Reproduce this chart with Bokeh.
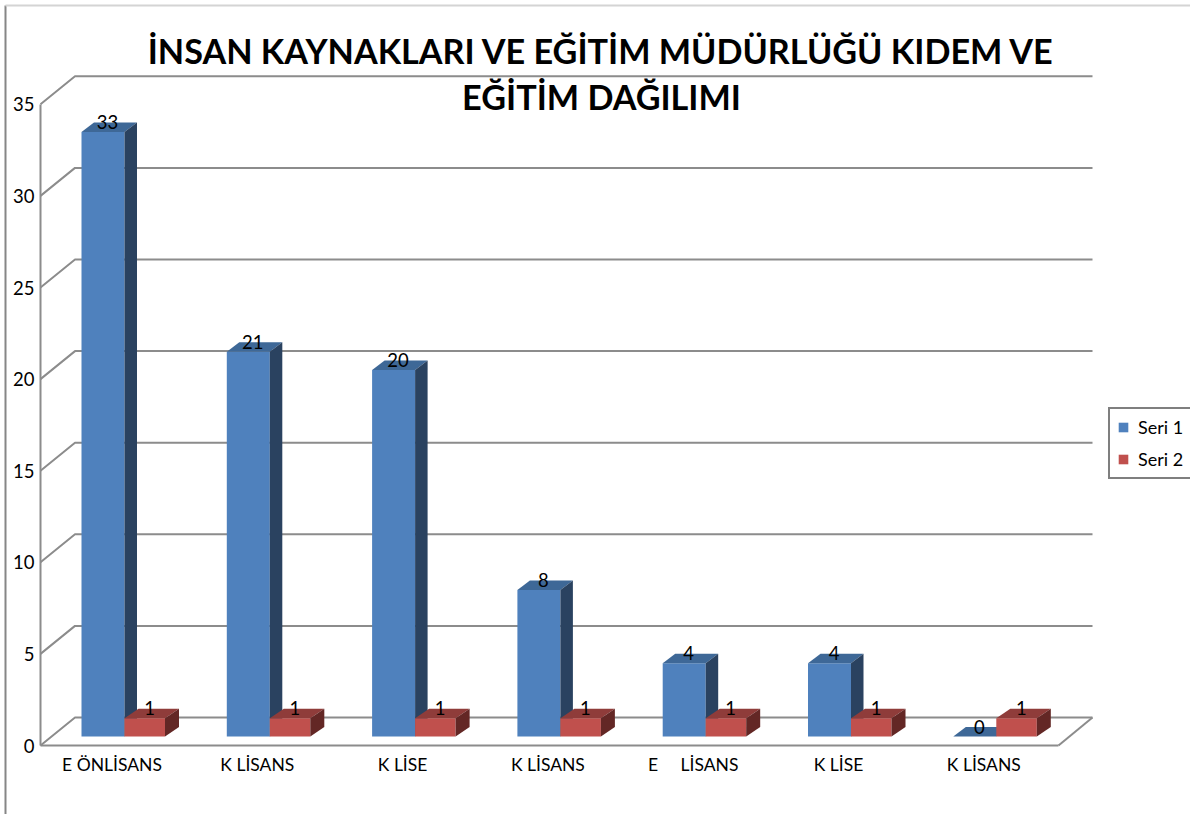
from bokeh.plotting import figure
from bokeh.embed import file_html
from bokeh.resources import INLINE
from bokeh.models import Range1d, FixedTicker, Legend, LegendItem, Label
from bokeh.core.properties import value

# ---- data ----
categories = ["E ÖNLİSANS", "K LİSANS", "K LİSE", "K LİSANS", "E\u00a0\u00a0\u00a0\u00a0\u00a0LİSANS", "K LİSE", "K LİSANS"]
seri_1 = [33, 21, 20, 8, 4, 4, 0]
seri_2 = [1, 1, 1, 1, 1, 1, 1]
y_ticks = [0, 5, 10, 15, 20, 25, 30, 35]
series_names = ["Seri 1", "Seri 2"]
title_lines = ["İNSAN KAYNAKLARI VE EĞİTİM MÜDÜRLÜĞÜ KIDEM VE", "EĞİTİM DAĞILIMI"]

# ---- layout ----
W, H = 1190, 814
PX_X, PX_Y = 145.3, 18.32      # pixels per category / per unit
X0, Y0 = 111.5, 745            # pixel of category 0 / of value 0
FONT = "Lato"
GRID = "#8c8c8c"
BLUE = ("#4f81bd", "#3e6897", "#2a4260")
RED = ("#c0504d", "#8f3c3a", "#632725")


def dx(px):
    return px / PX_X


def dy(px):
    return px / PX_Y


def fx(px):
    return (px - X0) / PX_X


def fy(px):
    return (Y0 - px) / PX_Y


p = figure(
    width=W, height=H, output_backend="svg", toolbar_location=None,
    x_range=Range1d(fx(0), fx(W)), y_range=Range1d(fy(H), fy(0)),
    min_border=0, min_border_left=0, min_border_right=0, min_border_top=0, min_border_bottom=0,
    outline_line_color=None, background_fill_color="white", border_fill_color="white",
)
p.grid.visible = False

# outer chart frame
p.line([fx(5), fx(5)], [fy(H), fy(5)], line_color="#868686", line_width=2)
p.line([fx(5), fx(W)], [fy(5), fy(5)], line_color="#d4d4d4", line_width=2)

# walls and floor
wall_left, wall_right = fx(74.5), fx(1092)
axis_left = fx(40)
depth_y = dy(28)
for t in y_ticks:
    yb = t + depth_y
    p.line([axis_left, wall_left, wall_right], [t, yb, yb], line_color=GRID, line_width=2)
floor_right = fx(1058)
p.line([floor_right, wall_right], [0, depth_y], line_color=GRID, line_width=2)

# 3D bars
bar_depth_y = dy(9)
side_y = dy(9.5)


def draw_bars(values, left, right, colors, side_x):
    front = p.quad(left=[i + left for i in range(len(values))],
                   right=[i + right for i in range(len(values))],
                   bottom=[bar_depth_y] * len(values),
                   top=[v + bar_depth_y for v in values],
                   fill_color=colors[0], line_color=None)
    tops_x, tops_y, sides_x, sides_y = [], [], [], []
    for i, v in enumerate(values):
        a, b = i + left, i + right
        t = v + bar_depth_y
        tops_x.append([a, b, b + side_x, a + side_x])
        tops_y.append([t, t, t + side_y, t + side_y])
        if v > 0:
            sides_x.append([b, b + side_x, b + side_x, b])
            sides_y.append([t, t + side_y, bar_depth_y + side_y, bar_depth_y])
    p.patches(tops_x, tops_y, fill_color=colors[1], line_color=None)
    p.patches(sides_x, sides_y, fill_color=colors[2], line_color=None)
    return front


r1 = draw_bars(seri_1, dx(-30.5), dx(12.5), BLUE, dx(12.5))
r2 = draw_bars(seri_2, dx(12.5), dx(53), RED, dx(14))

# data labels
n = len(categories)
p.text([i + dx(-4.5) for i in range(n)], [v + bar_depth_y + dy(10) for v in seri_1],
       text=[str(v) for v in seri_1], text_align="center", text_baseline="middle",
       text_font=value(FONT), text_font_size="18.5px", text_color="black")
p.text([i + dx(37.5) for i in range(n)], [v + bar_depth_y + dy(10) for v in seri_2],
       text=[str(v) for v in seri_2], text_align="center", text_baseline="middle",
       text_font=value(FONT), text_font_size="18.5px", text_color="black")

# axes
xa = p.xaxis[0]
xa.fixed_location = 0
xa.bounds = (axis_left, floor_right)
xa.ticker = FixedTicker(ticks=list(range(n)))
xa.major_label_overrides = {i: c for i, c in enumerate(categories)}
xa.major_tick_line_color = None
xa.minor_tick_line_color = None
xa.axis_line_color = GRID
xa.axis_line_width = 2
xa.major_label_standoff = 2
xa.major_label_text_font = FONT
xa.major_label_text_font_size = "17.5px"
xa.major_label_text_color = "black"

ya = p.yaxis[0]
ya.fixed_location = axis_left
ya.bounds = (0, 35)
ya.ticker = FixedTicker(ticks=y_ticks)
ya.major_tick_line_color = None
ya.minor_tick_line_color = None
ya.axis_line_color = GRID
ya.axis_line_width = 2
ya.major_label_standoff = 0
ya.major_label_text_font = FONT
ya.major_label_text_font_size = "18.5px"
ya.major_label_text_color = "black"

# title
for text, cy in zip(title_lines, (50, 95.5)):
    p.add_layout(Label(x=fx(601), y=fy(cy), text=text, text_align="center", text_baseline="middle",
                       text_font=FONT, text_font_style="bold", text_font_size="34.2px", text_color="black"))

# legend
legend = Legend(items=[LegendItem(label=series_names[0], renderers=[r1]),
                       LegendItem(label=series_names[1], renderers=[r2])],
                location=(1108, H - 479), margin=0, padding=7, spacing=10,
                glyph_width=12, glyph_height=12, label_standoff=9,
                label_text_font=FONT, label_text_font_size="18px", label_text_color="black",
                border_line_color="black", border_line_width=2, background_fill_alpha=1)
p.add_layout(legend)

open("out.html", "w").write(file_html(p, INLINE))
